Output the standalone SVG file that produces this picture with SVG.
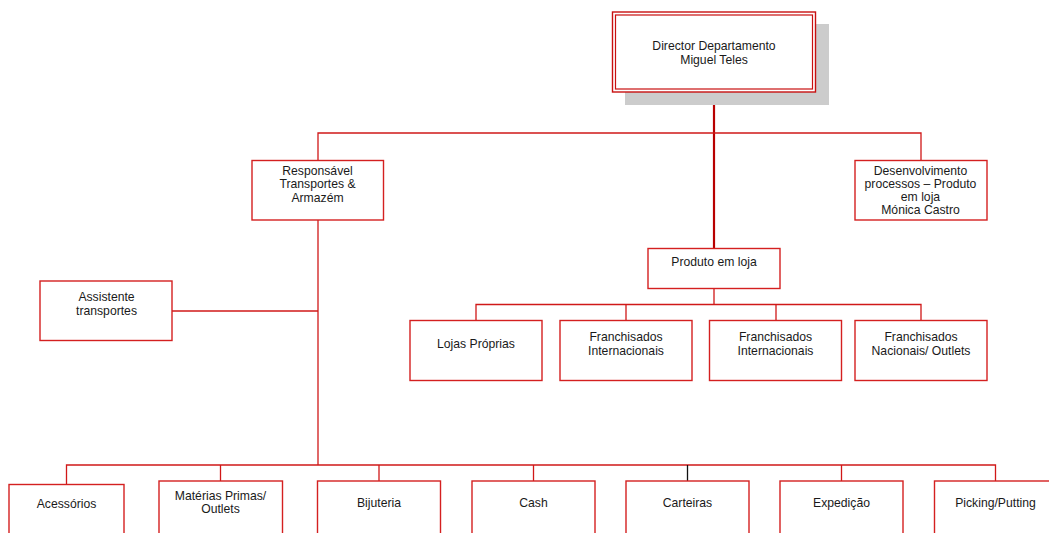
<svg xmlns="http://www.w3.org/2000/svg" width="1049" height="533" viewBox="0 0 1049 533">
  <style>
    .box { fill: #ffffff; stroke: #d42020; stroke-width: 1.4; }
    .lbl { font-family: "Liberation Sans", Arial, sans-serif; font-size: 12.2px; fill: #1a1a1a; text-anchor: middle; }
    .ln { fill: none; stroke: #d01818; stroke-width: 1.3; }
  </style>
  <rect width="1049" height="533" fill="#ffffff"/>

  <!-- connectors -->
  <g id="connectors">
    <path class="ln" d="M714 92 V248" style="stroke:#b80000;stroke-width:2.2"/>
    <path class="ln" d="M318 160 V133 H921 V160"/>
    <path class="ln" d="M318 220 V465"/>
    <path class="ln" d="M172 311 H318"/>
    <path class="ln" d="M714 288 V304.5"/>
    <path class="ln" d="M476 320 V304.5 H921 V320"/>
    <path class="ln" d="M626 304.5 V320"/>
    <path class="ln" d="M776 304.5 V320"/>
    <path class="ln" d="M66.5 484 V465 H995.5 V481"/>
    <path class="ln" d="M220.5 465 V481"/>
    <path class="ln" d="M379 465 V481"/>
    <path class="ln" d="M533.5 465 V481"/>
    <path class="ln" d="M687.5 465 V481" style="stroke:#111111"/>
    <path class="ln" d="M841.5 465 V481"/>
  </g>

  <!-- top node with drop shadow and double frame -->
  <g id="node-director">
    <rect x="625" y="24" width="204" height="81" fill="#cccccc"/>
    <rect x="612.5" y="12" width="203" height="80" fill="#ffffff" stroke="#c81010" stroke-width="1.4"/>
    <rect x="615.5" y="15" width="197" height="74" fill="none" stroke="#c81010" stroke-width="1.2"/>
    <text class="lbl" x="714" y="50">Director Departamento</text>
    <text class="lbl" x="714" y="63.5">Miguel Teles</text>
  </g>

  <g id="node-responsavel">
    <rect class="box" x="252" y="160.5" width="131.5" height="59.5"/>
    <text class="lbl" x="317.5" y="175">Responsável</text>
    <text class="lbl" x="317.5" y="188">Transportes &amp;</text>
    <text class="lbl" x="317.5" y="201.5">Armazém</text>
  </g>

  <g id="node-desenvolvimento">
    <rect class="box" x="855" y="160.5" width="132" height="59.5"/>
    <text class="lbl" x="920.5" y="174.5">Desenvolvimento</text>
    <text class="lbl" x="920.5" y="187.5">processos – Produto</text>
    <text class="lbl" x="920.5" y="201">em loja</text>
    <text class="lbl" x="920.5" y="214">Mónica Castro</text>
  </g>

  <g id="node-assistente">
    <rect class="box" x="40" y="281" width="132" height="59.5"/>
    <text class="lbl" x="106.5" y="301">Assistente</text>
    <text class="lbl" x="106.5" y="315">transportes</text>
  </g>

  <g id="node-produto">
    <rect class="box" x="648" y="248.5" width="132" height="40"/>
    <text class="lbl" x="714" y="266">Produto em loja</text>
  </g>

  <g id="node-lojas">
    <rect class="box" x="410" y="320.5" width="132" height="60"/>
    <text class="lbl" x="476" y="347.5">Lojas Próprias</text>
  </g>

  <g id="node-franch-int-1">
    <rect class="box" x="560" y="320.5" width="132" height="60"/>
    <text class="lbl" x="626" y="341">Franchisados</text>
    <text class="lbl" x="626" y="354.5">Internacionais</text>
  </g>

  <g id="node-franch-int-2">
    <rect class="box" x="709.5" y="320.5" width="132" height="60"/>
    <text class="lbl" x="775.5" y="341">Franchisados</text>
    <text class="lbl" x="775.5" y="354.5">Internacionais</text>
  </g>

  <g id="node-franch-nac">
    <rect class="box" x="855" y="320.5" width="132" height="60"/>
    <text class="lbl" x="921" y="341">Franchisados</text>
    <text class="lbl" x="921" y="354.5">Nacionais/ Outlets</text>
  </g>

  <g id="node-acessorios">
    <rect class="box" x="9" y="484.5" width="115" height="60"/>
    <text class="lbl" x="66.5" y="508">Acessórios</text>
  </g>

  <g id="node-materias">
    <rect class="box" x="159" y="481" width="123.5" height="60"/>
    <text class="lbl" x="220.5" y="499.5">Matérias Primas/</text>
    <text class="lbl" x="220.5" y="513">Outlets</text>
  </g>

  <g id="node-bijuteria">
    <rect class="box" x="317.5" y="481" width="123" height="60"/>
    <text class="lbl" x="379" y="506.5">Bijuteria</text>
  </g>

  <g id="node-cash">
    <rect class="box" x="472" y="481" width="123" height="60"/>
    <text class="lbl" x="533.5" y="506.5">Cash</text>
  </g>

  <g id="node-carteiras">
    <rect class="box" x="626" y="481" width="123" height="60"/>
    <text class="lbl" x="687.5" y="506.5">Carteiras</text>
  </g>

  <g id="node-expedicao">
    <rect class="box" x="780" y="481" width="123" height="60"/>
    <text class="lbl" x="841.5" y="506.5">Expedição</text>
  </g>

  <g id="node-picking">
    <rect class="box" x="934.5" y="481" width="123" height="60"/>
    <text class="lbl" x="995.5" y="506.5">Picking/Putting</text>
  </g>
</svg>
